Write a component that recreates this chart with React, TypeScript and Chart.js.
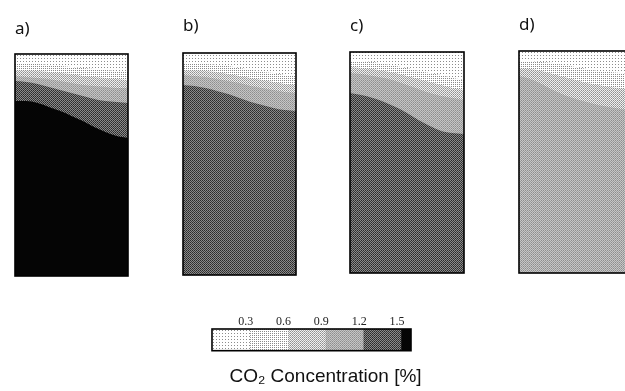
import React, { useEffect, useRef } from 'react';
import { Chart, registerables } from 'chart.js';
Chart.register(...registerables);

// ---- data (depth of each concentration contour, % of panel height from top) ----
const X_POSITIONS = [0, 0.1, 0.2, 0.3, 0.4, 0.5, 0.6, 0.7, 0.8, 0.9, 1.0];
const TOP_LINE = [0, 0, 0, 0, 0, 0, 0, 0, 0, 0, 0];

const A_03 = [4.1, 4.1, 4.5, 5.0, 5.4, 5.9, 6.3, 6.8, 7.2, 7.7, 8.1];
const A_06 = [7.2, 7.2, 7.7, 8.1, 8.6, 9.0, 9.9, 10.4, 10.8, 11.3, 11.7];
const A_09 = [9.9, 10.4, 10.8, 11.3, 12.2, 13.1, 14.0, 14.4, 14.9, 15.3, 15.3];
const A_12 = [12.2, 12.6, 13.5, 14.9, 16.2, 17.6, 18.9, 20.3, 21.2, 21.6, 22.1];
const A_15 = [21.2, 21.2, 22.1, 23.9, 25.7, 27.9, 30.2, 32.9, 35.1, 36.9, 37.8];

const B_03 = [4.5, 4.5, 5.0, 5.4, 5.9, 6.8, 7.7, 8.6, 9.0, 9.9, 10.4];
const B_06 = [7.7, 7.7, 8.1, 8.6, 9.5, 10.4, 11.3, 12.2, 13.1, 14.0, 14.4];
const B_09 = [9.9, 10.4, 10.8, 11.7, 12.6, 13.5, 14.9, 15.8, 16.7, 17.6, 18.0];
const B_12 = [14.4, 14.9, 15.8, 17.1, 18.5, 20.3, 22.1, 23.4, 24.8, 25.7, 26.1];

const C_03 = [4.1, 4.1, 4.5, 5.4, 6.3, 7.2, 8.6, 9.5, 10.4, 11.8, 12.7];
const C_06 = [6.8, 7.2, 7.7, 8.6, 9.5, 10.9, 12.2, 13.6, 14.9, 16.3, 17.2];
const C_09 = [9.5, 10.0, 10.9, 11.8, 13.1, 14.9, 16.7, 18.6, 19.9, 20.8, 21.7];
const C_12 = [18.6, 19.5, 20.8, 22.6, 24.9, 27.6, 30.8, 33.5, 35.7, 36.7, 37.1];

const D_03 = [4.5, 4.5, 5.0, 5.4, 6.3, 7.2, 8.1, 9.0, 9.5, 9.9, 10.4];
const D_06 = [7.7, 8.1, 9.0, 10.4, 11.7, 13.1, 14.4, 15.3, 16.2, 16.7, 17.1];
const D_09 = [11.3, 12.6, 14.9, 17.6, 19.8, 21.6, 23.0, 24.3, 25.2, 26.1, 26.6];

const PANEL_LABELS = ['a)', 'b)', 'c)', 'd)'];
const PANEL_CONTOURS = [
  [A_03, A_06, A_09, A_12, A_15],
  [B_03, B_06, B_09, B_12],
  [C_03, C_06, C_09, C_12],
  [D_03, D_06, D_09],
];

const LEVEL_TICKS = [0.3, 0.6, 0.9, 1.2, 1.5];
const COLORBAR_WIDTHS = [0.3, 0.3, 0.3, 0.3, 0.3, 0.08];
const COLORBAR_MAX = 1.58;
const COLORBAR_TITLE = 'CO\u2082 Concentration [%]';

// ---- layout (pixels) ----
const PANEL_BOXES = [
  { left: 15, right: 128, top: 54, bottom: 276, labelX: 13, labelY: 29 },
  { left: 183, right: 296, top: 53, bottom: 275, labelX: 182, labelY: 26 },
  { left: 350, right: 464, top: 52, bottom: 273, labelX: 350, labelY: 26 },
  { left: 519, right: 632, top: 51, bottom: 273, labelX: 515, labelY: 25 },
];

function makePattern(size: number, bg: string, dots: [number, number, string][]) {
  const c = document.createElement('canvas');
  c.width = size;
  c.height = size;
  const g = c.getContext('2d')!;
  g.fillStyle = bg;
  g.fillRect(0, 0, size, size);
  for (const [x, y, col] of dots) {
    g.fillStyle = col;
    g.fillRect(x, y, 1, 1);
  }
  return g.createPattern(c, 'repeat')!;
}

function levelFills() {
  return [
    makePattern(3, '#ffffff', [[1, 1, '#8c8c8c']]),
    makePattern(2, '#ffffff', [[0, 0, '#8a8a8a']]),
    makePattern(2, '#f0f0f0', [[0, 0, '#909090'], [1, 1, '#a8a8a8']]),
    makePattern(2, '#c6c6c6', [[0, 0, '#8e8e8e'], [1, 1, '#9e9e9e']]),
    makePattern(2, '#8a8a8a', [[0, 0, '#2a2a2a'], [1, 1, '#3a3a3a']]),
    '#050505',
  ];
}

const framePlugin = {
  id: 'frame',
  afterDatasetsDraw(chart: any) {
    const { ctx, chartArea: a } = chart;
    ctx.save();
    ctx.strokeStyle = '#000';
    ctx.lineWidth = 1.6;
    ctx.strokeRect(a.left, a.top, a.right - a.left, a.bottom - a.top);
    ctx.restore();
  },
};

function Panel({ index }: { index: number }) {
  const ref = useRef<HTMLCanvasElement>(null);
  const box = PANEL_BOXES[index];
  const padLeft = Math.max(1, box.left - box.labelX);
  const canvasLeft = box.left - padLeft;
  const width = box.right - box.left + padLeft + 3;
  const height = box.bottom + 3;
  useEffect(() => {
    const fills = levelFills();
    const levels = [TOP_LINE, ...PANEL_CONTOURS[index]];
    const datasets: any[] = [];
    for (let k = levels.length - 1; k >= 0; k--) {
      datasets.push({
        data: X_POSITIONS.map((x, i) => ({ x, y: levels[k][i] })),
        fill: { value: 100 },
        backgroundColor: fills[k],
        borderWidth: 0,
        borderColor: 'rgba(0,0,0,0)',
        pointRadius: 0,
        cubicInterpolationMode: 'monotone',
      });
    }
    const chart = new Chart(ref.current!, {
      type: 'line',
      data: { datasets },
      options: {
        responsive: false,
        animation: false,
        layout: { padding: { left: padLeft, right: 3, top: 0, bottom: 3 } },
        scales: {
          x: { type: 'linear', min: 0, max: 1, display: false },
          y: { min: 0, max: 100, reverse: true, display: false },
        },
        plugins: {
          legend: { display: false },
          tooltip: { enabled: false },
          title: {
            display: true,
            text: PANEL_LABELS[index],
            align: 'start',
            color: '#111',
            font: { family: 'Noto Sans', size: 17, weight: 'normal', lineHeight: 1.2 },
            padding: { top: box.labelY - 10.2, bottom: box.top - box.labelY - 10.2 },
          },
        },
      },
      plugins: [framePlugin],
    } as any);
    return () => chart.destroy();
  }, []);
  return (
    <canvas
      ref={ref}
      width={width}
      height={height}
      style={{ position: 'absolute', left: canvasLeft, top: 0, width, height }}
    />
  );
}

function ColorBar() {
  const ref = useRef<HTMLCanvasElement>(null);
  useEffect(() => {
    const fills = levelFills();
    const chart = new Chart(ref.current!, {
      type: 'bar',
      data: {
        labels: ['CO2'],
        datasets: COLORBAR_WIDTHS.map((w, k) => ({
          data: [w],
          backgroundColor: fills[k],
          borderWidth: 0,
          barPercentage: 1,
          categoryPercentage: 1,
        })),
      },
      options: {
        indexAxis: 'y',
        responsive: false,
        animation: false,
        layout: { padding: { left: 12, right: 14, top: 9.6, bottom: 3 } },
        scales: {
          x: {
            stacked: true,
            min: 0,
            max: COLORBAR_MAX,
            position: 'top',
            grid: { display: false, drawTicks: false },
            border: { display: false },
            afterBuildTicks: (axis: any) => {
              axis.ticks = LEVEL_TICKS.map((v) => ({ value: v }));
            },
            ticks: {
              padding: 0,
              labelOffset: -4,
              color: '#222',
              font: { family: 'Liberation Serif', size: 12 },
              callback: (v: any) => Number(v).toFixed(1),
            },
          },
          y: { stacked: true, display: false },
          yRight: {
            type: 'linear',
            position: 'right',
            display: true,
            grid: { display: false, drawTicks: false },
            border: { display: false },
            ticks: { display: false },
            afterFit: (s: any) => {
              s.width = 28;
            },
          },
        },
        plugins: {
          legend: { display: false },
          tooltip: { enabled: false },
          title: {
            display: true,
            position: 'bottom',
            text: COLORBAR_TITLE,
            color: '#111',
            font: { family: 'Liberation Sans', size: 19, weight: 'normal', lineHeight: 1.2 },
            padding: { top: 14.5, bottom: 0 },
          },
        },
      },
      plugins: [framePlugin],
    } as any);
    return () => chart.destroy();
  }, []);
  return (
    <canvas
      ref={ref}
      width={253}
      height={86}
      style={{ position: 'absolute', left: 200, top: 305, width: 253, height: 86 }}
    />
  );
}

export default function App() {
  return (
    <div
      style={{
        position: 'fixed',
        left: 0,
        top: 0,
        width: 625,
        height: 391,
        overflow: 'hidden',
        background: '#fff',
      }}
    >
      {PANEL_LABELS.map((_, i) => (
        <Panel key={i} index={i} />
      ))}
      <ColorBar />
    </div>
  );
}
